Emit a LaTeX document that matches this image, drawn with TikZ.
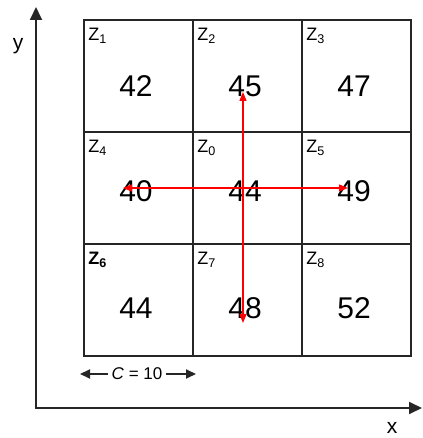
\documentclass[tikz,border=0pt]{standalone}
\usepackage{fontspec}
\setmainfont{Liberation Sans}
\usetikzlibrary{arrows.meta}

\begin{document}
\begin{tikzpicture}[
        x=1pt, y=1pt,
        cell/.style={draw=black!85, line width=1.8pt, minimum width=109pt, minimum height=112pt, inner sep=0pt},
        zlab/.style={anchor=north west, inner sep=0pt, font=\fontsize{18}{20}\selectfont},
        value/.style={inner sep=1pt, font=\fontsize{30}{34}\selectfont},
        axis/.style={draw=black!85, line width=1.8pt, line join=miter, {Triangle[length=13pt,width=12pt]}-{Triangle[length=13pt,width=12pt]}},
        axlab/.style={inner sep=0pt, font=\fontsize{21}{24}\selectfont},
        span/.style={draw=black!85, line width=1.8pt, -{Triangle[length=10pt,width=9pt]}},
        probe/.style={draw=red, line width=1.3pt, {Triangle[length=9pt,width=7pt]}-{Triangle[length=9pt,width=7pt]}}
    ]
    \useasboundingbox (0,0) rectangle (422,438);

    \foreach \idx/\col/\row/\dy/\val in {1/0/0/-10/42, 2/1/0/-10/45, 3/2/0/-10/47,
                                          4/0/1/-3/40, 0/1/1/-3/44, 5/2/1/-3/49,
                                          6/0/2/-8/44, 7/1/2/-8/48, 8/2/2/-8/52}{
        \node[cell] (c\idx) at (138.5+109*\col, 362-112*\row) {};
        \node[zlab] (z\idx) at ([shift={(5,-9)}]c\idx.north west) {\ifnum\idx=6 \bfseries\fi Z\textsubscript{\idx}};
        \node[value] (v\idx) at ([shift={(-2.5,\dy)}]c\idx.center) {\val};
    }

    \draw[probe] ([shift={(-2,-6)}]v2.center) -- ([shift={(-2,-15)}]v7.center);
    \draw[probe] ([shift={(-13,3)}]v4.center) -- ([shift={(-6,3)}]v5.center);

    \coordinate (origin) at (36,30);
    \coordinate (ytip) at (36,431);
    \coordinate (xtip) at (422,30);
    \draw[axis] (ytip) -- (origin) -- (xtip);
    \node[axlab] (ylab) at (18,392) {y};
    \node[axlab] (xlab) at (392,10) {x};

    \node[font=\fontsize{17}{19}\selectfont] (cspan) at (137,64) {\textit{C} = 10};
    \coordinate (cleft) at (80,64);
    \coordinate (cright) at (196,64);
    \draw[span] (cspan) -- (cleft);
    \draw[span] (cspan) -- (cright);
\end{tikzpicture}
\end{document}
